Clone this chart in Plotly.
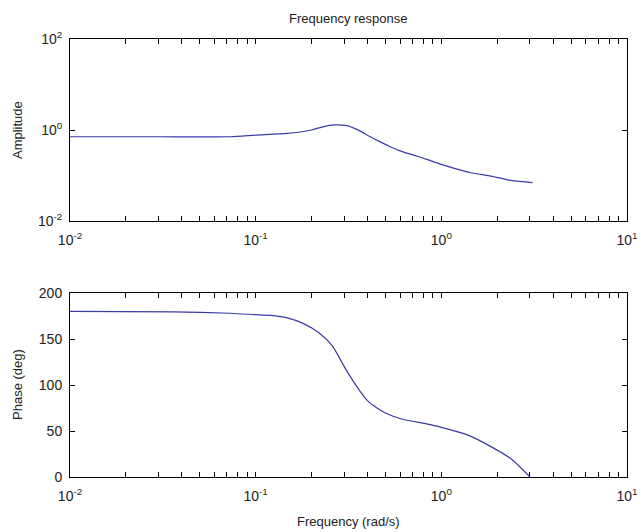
import plotly.graph_objects as go

# Amplitude response
amp_freq = [0.01, 0.03, 0.073, 0.1, 0.148, 0.2, 0.245, 0.27, 0.31, 0.36, 0.40, 0.46, 0.53, 0.61, 0.71, 0.85, 1.0, 1.2, 1.44, 1.85, 2.4, 3.1]
amp_val = [0.71, 0.71, 0.71, 0.77, 0.84, 1.0, 1.25, 1.29, 1.25, 0.98, 0.77, 0.57, 0.43, 0.34, 0.28, 0.22, 0.175, 0.14, 0.115, 0.097, 0.077, 0.07]

# Phase response
ph_freq = [0.01, 0.036, 0.073, 0.1, 0.12, 0.148, 0.18, 0.22, 0.26, 0.30, 0.35, 0.40, 0.45, 0.5, 0.61, 0.82, 1.0, 1.37, 1.85, 2.4, 3.0]
ph_val = [180, 179.5, 178, 176.5, 175.7, 173, 167, 156.5, 142, 120, 98.5, 83, 75, 69.5, 63, 58, 54, 46, 33, 19, 0]

decade_vals = [0.01, 0.1, 1, 10]
decade_text = ["10<sup>-2</sup>", "10<sup>-1</sup>", "10<sup>0</sup>", "10<sup>1</sup>"]
amp_tick_vals = [0.01, 1, 100]
amp_tick_text = ["10<sup>-2</sup>", "10<sup>0</sup>", "10<sup>2</sup>"]
phase_ticks = [0, 50, 100, 150, 200]

# all log ticks (minor + major)
xt_vals = []
xt_text = []
for d in [0.01, 0.1, 1]:
    for m in range(1, 10):
        v = d * m
        xt_vals.append(v)
        xt_text.append(decade_text[decade_vals.index(d)] if m == 1 else "")
xt_vals.append(10)
xt_text.append(decade_text[3])

W, H = 641, 532
L, R = 70, 627
T1, B1 = 39, 221
T2, B2 = 293, 477

line_color = "#3a3aa8"
fam = "Liberation Sans, Arial, sans-serif"
tfont = dict(family=fam, size=14, color="#222")
lfont = dict(family=fam, size=13, color="#222")

fig = go.Figure()
fig.add_trace(go.Scatter(x=amp_freq, y=amp_val, mode="lines",
                         line=dict(color=line_color, width=1.2, shape="spline", smoothing=0.6),
                         xaxis="x", yaxis="y", showlegend=False))
fig.add_trace(go.Scatter(x=ph_freq, y=ph_val, mode="lines",
                         line=dict(color=line_color, width=1.2, shape="spline", smoothing=0.6),
                         xaxis="x2", yaxis="y2", showlegend=False))

common = dict(ticks="inside", ticklen=5, tickcolor="black", showline=True, linecolor="black",
              linewidth=1, mirror="allticks", showgrid=False, zeroline=False,
              tickfont=tfont, automargin=False)

xcommon = dict(type="log", range=[-2, 1], tickvals=xt_vals, ticktext=xt_text,
               domain=[L / W, R / W], ticklabelstandoff=6, **common)

fig.update_layout(
    width=W, height=H,
    margin=dict(l=0, r=0, t=0, b=0),
    paper_bgcolor="white", plot_bgcolor="white",
    font=tfont,
    xaxis=dict(**xcommon, anchor="y"),
    yaxis=dict(type="log", range=[-2, 2], tickvals=amp_tick_vals, ticktext=amp_tick_text,
               domain=[1 - B1 / H, 1 - T1 / H], anchor="x", ticklabelstandoff=4, **common),
    xaxis2=dict(**xcommon, anchor="y2"),
    yaxis2=dict(range=[0, 200], tickvals=phase_ticks,
                domain=[1 - B2 / H, 1 - T2 / H], anchor="x2", ticklabelstandoff=4, **common),
    annotations=[
        dict(text="Frequency response", x=(L + R) / 2 / W, y=1 - 18 / H, xref="paper", yref="paper",
             xanchor="center", yanchor="middle", showarrow=False, font=lfont),
        dict(text="Amplitude", x=17 / W, y=1 - 130 / H, xref="paper", yref="paper",
             xanchor="center", yanchor="middle", showarrow=False, textangle=-90, font=lfont),
        dict(text="Phase (deg)", x=17 / W, y=1 - 385 / H, xref="paper", yref="paper",
             xanchor="center", yanchor="middle", showarrow=False, textangle=-90, font=lfont),
        dict(text="Frequency (rad/s)", x=(L + R) / 2 / W, y=1 - 521 / H, xref="paper", yref="paper",
             xanchor="center", yanchor="middle", showarrow=False, font=lfont),
    ],
)

fig.write_html("out.html", config={"displayModeBar": False},
               post_script="document.body.style.margin='0';document.body.style.padding='0';document.body.style.overflow='hidden';")
